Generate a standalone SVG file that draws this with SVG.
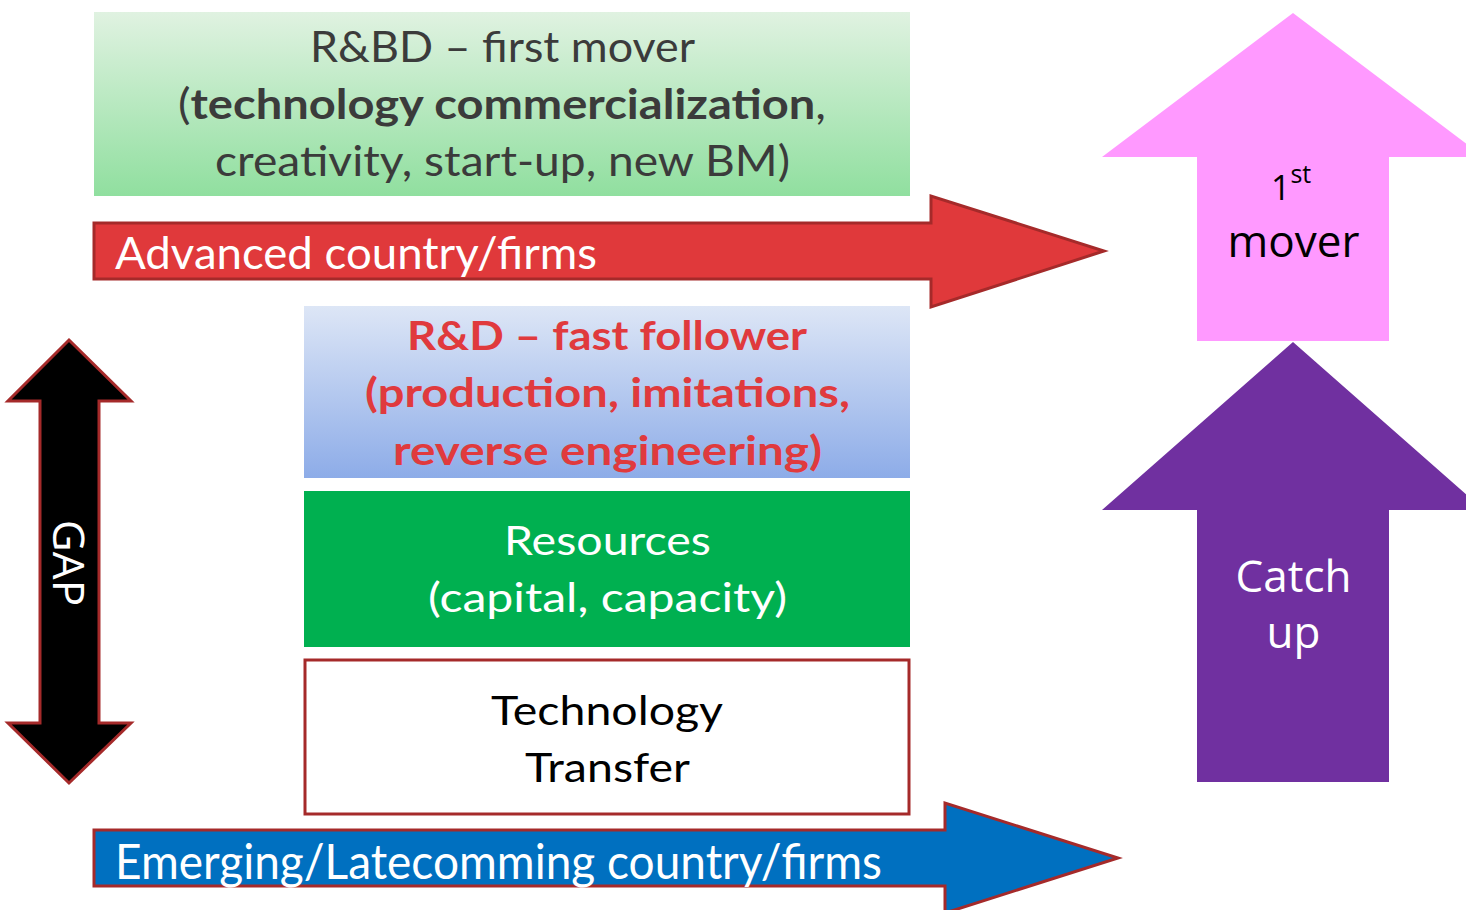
<svg xmlns="http://www.w3.org/2000/svg" width="1466" height="910" viewBox="0 0 1466 910">
<defs>
<linearGradient id="gGreen" x1="0" y1="0" x2="0" y2="1">
<stop offset="0" stop-color="#e0f2e1"/>
<stop offset="1" stop-color="#90df9f"/>
</linearGradient>
<linearGradient id="gBlue" x1="0" y1="0" x2="0" y2="1">
<stop offset="0" stop-color="#dde6f6"/>
<stop offset="1" stop-color="#8dace8"/>
</linearGradient>
<style>
.cal{font-family:Lato,"Open Sans","Liberation Sans",sans-serif;}
.seg{font-family:"Open Sans","Noto Sans","Liberation Sans",sans-serif;}
.mid{text-anchor:middle;}
.wht{fill:#ffffff;}
.edge{stroke:#a52a2a;stroke-width:3;stroke-linejoin:miter;}
</style>
</defs>
<rect width="1466" height="910" fill="#ffffff"/>

<g id="connectors">
<g id="arrow-advanced">
<path class="edge" d="M94,223 H931 V196 L1104,251 L931,307 V279 H94 Z" fill="#e0393b"/>
<text class="cal wht" x="115" y="269" font-size="45" textLength="482" lengthAdjust="spacingAndGlyphs">Advanced country/firms</text>
</g>
<g id="arrow-emerging">
<path class="edge" d="M94,830 H945 V803 L1118,858 L945,913 V886 H94 Z" fill="#0070c0"/>
<text class="cal wht" x="115" y="879" font-size="48" textLength="767" lengthAdjust="spacingAndGlyphs">Emerging/Latecomming country/firms</text>
</g>
<g id="arrow-gap">
<path class="edge" d="M69,340 L131,401 H99 V723 H131 L69,783 L8,723 H40 V401 H8 Z" fill="#000000"/>
<text class="seg wht mid" transform="translate(53,563) rotate(90)" x="0" y="0" font-size="44">GAP</text>
</g>
</g>

<g id="node-rbd">
<rect x="94" y="12" width="816" height="184" fill="url(#gGreen)"/>
<g class="cal mid" fill="#3b3b3b" font-size="42">
<text x="502.5" y="62" textLength="385" lengthAdjust="spacingAndGlyphs">R&amp;BD – first mover</text>
<text x="502" y="119" textLength="648" lengthAdjust="spacingAndGlyphs">(<tspan font-weight="bold">technology commercialization</tspan>,</text>
<text x="502.5" y="176" textLength="575" lengthAdjust="spacingAndGlyphs">creativity, start-up, new BM)</text>
</g>
</g>

<g id="node-rd">
<rect x="304" y="306" width="606" height="172" fill="url(#gBlue)"/>
<g class="cal mid" fill="#e03a3d" font-size="41" font-weight="bold">
<text x="607" y="350" textLength="400" lengthAdjust="spacingAndGlyphs">R&amp;D – fast follower</text>
<text x="607.5" y="407" textLength="485" lengthAdjust="spacingAndGlyphs">(production, imitations,</text>
<text x="607.5" y="465" textLength="429" lengthAdjust="spacingAndGlyphs">reverse engineering)</text>
</g>
</g>

<g id="node-resources">
<rect x="304" y="491" width="606" height="156" fill="#00b050"/>
<g class="cal mid wht" font-size="41">
<text x="607.5" y="555" textLength="207" lengthAdjust="spacingAndGlyphs">Resources</text>
<text x="607.5" y="612" textLength="359" lengthAdjust="spacingAndGlyphs">(capital, capacity)</text>
</g>
</g>

<g id="node-transfer">
<rect class="edge" x="305" y="660" width="604" height="154" fill="#ffffff"/>
<g class="cal mid" fill="#000000" font-size="41">
<text x="607" y="725" textLength="232" lengthAdjust="spacingAndGlyphs">Technology</text>
<text x="607.5" y="782" textLength="165" lengthAdjust="spacingAndGlyphs">Transfer</text>
</g>
</g>

<g id="node-first-mover">
<path d="M1293,13 L1484,157 H1389 V341 H1197 V157 H1102 Z" fill="#ff99ff"/>
<text class="seg" x="1271" y="200" font-size="34" fill="#000000">1<tspan font-size="25" dy="-17">st</tspan></text>
<text class="seg mid" x="1293.5" y="257" font-size="44" fill="#000000">mover</text>
</g>

<g id="node-catch-up">
<path d="M1293,342 L1484,510 H1389 V782 H1197 V510 H1102 Z" fill="#7030a0"/>
<text class="seg mid wht" x="1293.5" y="592" font-size="44">Catch</text>
<text class="seg mid wht" x="1293.5" y="648" font-size="44">up</text>
</g>
</svg>
